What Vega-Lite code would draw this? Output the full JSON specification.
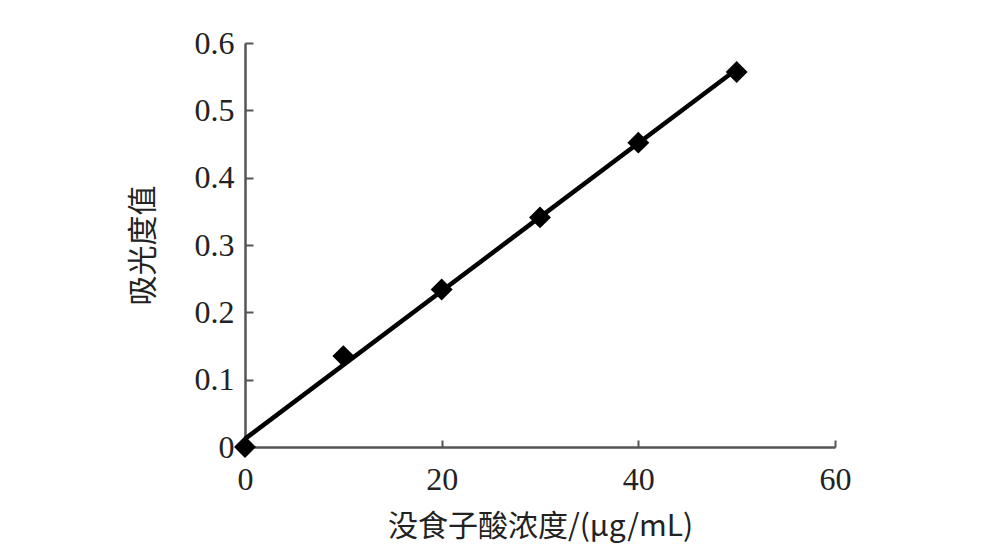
{
  "$schema": "https://vega.github.io/schema/vega-lite/v6.json",
  "autosize": {"type": "none"},
  "width": 590,
  "height": 404,
  "padding": {"left": 245, "top": 43, "right": 159, "bottom": 109},
  "background": "white",
  "config": {"view": {"stroke": null}},
  "data": {"values": [
    {"conc": 0, "abs": 0.0},
    {"conc": 10, "abs": 0.135},
    {"conc": 20, "abs": 0.234},
    {"conc": 30, "abs": 0.341},
    {"conc": 40, "abs": 0.452},
    {"conc": 50, "abs": 0.557}
  ]},
  "encoding": {
    "x": {
      "field": "conc", "type": "quantitative",
      "scale": {"domain": [0, 60], "nice": false, "zero": true},
      "axis": {
        "values": [0, 20, 40, 60], "grid": false, "labelFlush": false,
        "title": "没食子酸浓度/(μg/mL)",
        "titleFont": "Noto Sans CJK SC", "titleFontSize": 30, "titleFontWeight": "normal", "titleColor": "#222",
        "titlePadding": 16,
        "labelFont": "Liberation Serif", "labelFontSize": 32, "labelColor": "#222", "labelPadding": 24,
        "tickSize": -7, "tickWidth": 2, "tickColor": "#555",
        "domainColor": "#555", "domainWidth": 2.5
      }
    },
    "y": {
      "field": "abs", "type": "quantitative",
      "scale": {"domain": [0, 0.6], "nice": false},
      "axis": {
        "values": [0, 0.1, 0.2, 0.3, 0.4, 0.5, 0.6], "grid": false,
        "labelExpr": "datum.value == 0 ? '0' : format(datum.value, '.1f')",
        "title": "吸光度值",
        "titleFont": "Noto Sans CJK SC", "titleFontSize": 30, "titleFontWeight": "normal", "titleColor": "#222",
        "titlePadding": 36,
        "labelFont": "Liberation Serif", "labelFontSize": 32, "labelColor": "#222", "labelPadding": 19,
        "tickSize": -8, "tickWidth": 2, "tickColor": "#555",
        "domainColor": "#555", "domainWidth": 2.5
      }
    }
  },
  "layer": [
    {
      "transform": [{"regression": "abs", "on": "conc", "method": "linear", "extent": [0, 50]}],
      "mark": {"type": "line", "color": "black", "strokeWidth": 4.5}
    },
    {
      "mark": {"type": "point", "shape": "diamond", "filled": true, "color": "black", "opacity": 1, "size": 480}
    }
  ]
}
